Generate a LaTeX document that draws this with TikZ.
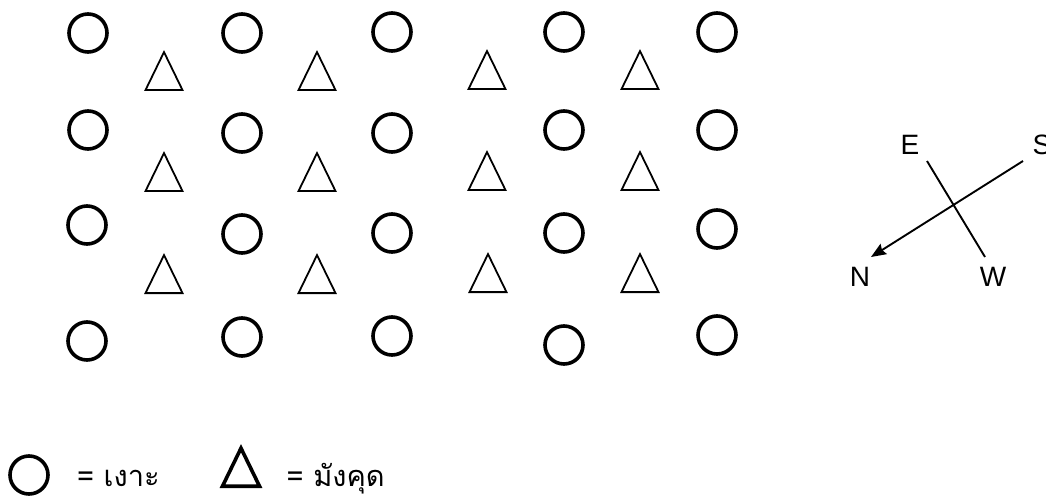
\documentclass[tikz,border=0pt]{standalone}
\usepackage{fontspec}
\setmainfont{Liberation Sans}
\newfontfamily\thaifont[Script=Thai]{Loma}
\usetikzlibrary{shapes.geometric, arrows.meta, positioning}

\begin{document}
\begin{tikzpicture}[
        x=1pt, y=-1pt,
        rambutan/.style={circle, draw=black, line width=3.6pt, minimum size=38pt, inner sep=0pt},
        mangosteen/.style={isosceles triangle, isosceles triangle stretches, shape border rotate=90, draw=black, line width=1.8pt, minimum width=37pt, minimum height=38pt, inner sep=0pt, anchor=lower side},
        dirlabel/.style={font=\fontsize{28}{32}\selectfont, inner sep=0pt},
        legend/.style={font=\thaifont\fontsize{29}{33}\selectfont, inner sep=0pt}
    ]
        \useasboundingbox (0,0) rectangle (1046,497);

        % Rambutan rows
        \node[rambutan] (r11) at (88,33) {};
        \node[rambutan] (r12) at (242,33) {};
        \node[rambutan] (r13) at (392,32) {};
        \node[rambutan] (r14) at (564,32) {};
        \node[rambutan] (r15) at (717,32) {};

        \node[rambutan] (r21) at (88,130) {};
        \node[rambutan] (r22) at (242,133) {};
        \node[rambutan] (r23) at (392,133) {};
        \node[rambutan] (r24) at (564,130) {};
        \node[rambutan] (r25) at (717,130) {};

        \node[rambutan] (r31) at (87,225) {};
        \node[rambutan] (r32) at (242,234) {};
        \node[rambutan] (r33) at (392,233) {};
        \node[rambutan] (r34) at (564,233) {};
        \node[rambutan] (r35) at (717,229) {};

        \node[rambutan] (r41) at (87,341) {};
        \node[rambutan] (r42) at (242,337) {};
        \node[rambutan] (r43) at (392,336) {};
        \node[rambutan] (r44) at (564,345) {};
        \node[rambutan] (r45) at (717,335) {};

        % Mangosteen rows (placed by base)
        \node[mangosteen] (m11) at (164,91) {};
        \node[mangosteen] (m12) at (317,91) {};
        \node[mangosteen] (m13) at (487,90) {};
        \node[mangosteen] (m14) at (640,90) {};

        \node[mangosteen] (m21) at (164,192) {};
        \node[mangosteen] (m22) at (317,192) {};
        \node[mangosteen] (m23) at (487,191) {};
        \node[mangosteen] (m24) at (640,191) {};

        \node[mangosteen] (m31) at (164,294) {};
        \node[mangosteen] (m32) at (317,294) {};
        \node[mangosteen] (m33) at (488,293) {};
        \node[mangosteen] (m34) at (640,293) {};

        % Compass
        \node[dirlabel] (east) at (910,145) {E};
        \node[dirlabel] (south) at (1042,145) {S};
        \node[dirlabel] (north) at (860,277) {N};
        \node[dirlabel] (west) at (993,277) {W};
        \coordinate (eEnd) at (927,161);
        \coordinate (wEnd) at (985,257);
        \coordinate (sEnd) at (1023,161);
        \coordinate (nEnd) at (871,257);
        \draw[line width=1.9pt] (eEnd) -- (wEnd);
        \draw[line width=1.9pt, -{Stealth[length=15pt, width=12pt, inset=2pt]}] (sEnd) -- (nEnd);

        % Legend
        \node[rambutan] (legCircle) at (29,475) {};
        \node[legend, right=27pt of legCircle, anchor=base west, yshift=-11pt] (legCircleText) {= เงาะ};
        \node[mangosteen, line width=3.6pt] (legTriangle) at (241,488) {};
        \node[legend, right=24pt of legTriangle.right corner, anchor=base west, yshift=2pt] (legTriangleText) {= มังคุด};
    \end{tikzpicture}
\end{document}
